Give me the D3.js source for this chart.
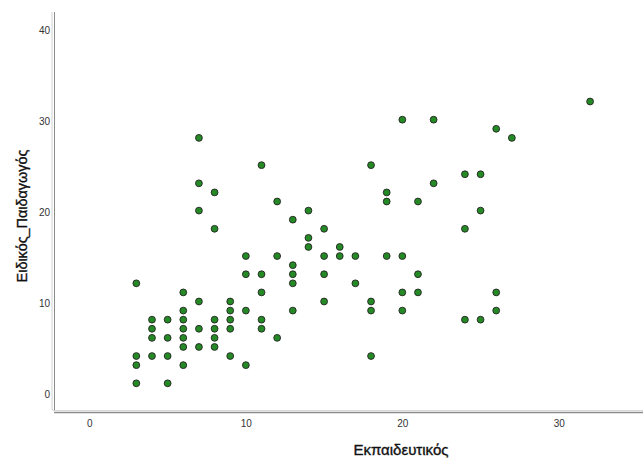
<!DOCTYPE html>
<html>
<head>
<meta charset="utf-8">
<script src="https://cdn.jsdelivr.net/npm/d3@7"></script>
<style>
  body { margin: 0; background: #fff; }
  svg { display: block; font-family: "Liberation Sans", Arial, sans-serif; }
</style>
</head>
<body>
<div id="chart"></div>
<script>
// Εκπαιδευτικός (x) and Ειδικός_Παιδαγωγός (y) values
const xValues = [3,3,3,3, 4,4,4,4, 5,5,5,5, 6,6,6,6,6,6,6, 7,7,7,7,7,7, 8,8,8,8,8,8,
    9,9,9,9,9, 10,10,10,10, 11,11,11,11,11, 12,12,12, 13,13,13,13,13, 14,14,14,
    15,15,15,15, 16,16, 17,17, 18,18,18,18, 19,19,19, 20,20,20,20, 21,21,21, 22,22,
    24,24,24, 25,25,25, 26,26,26, 27, 32];
const yValues = [12,4,3,1, 8,7,6,4, 8,6,4,1, 11,9,8,7,6,5,3, 28,23,20,10,7,5, 22,18,8,7,6,5,
    10,9,8,7,4, 15,13,9,3, 25,13,11,8,7, 21,15,6, 19,14,13,12,9, 20,17,16,
    18,15,13,10, 16,15, 15,12, 25,10,9,4, 22,21,15, 30,15,11,9, 21,13,11, 30,23,
    24,18,8, 24,20,8, 29,11,9, 28, 32];
const xTicks = [0, 10, 20, 30];
const yTicks = [0, 10, 20, 30, 40];
const xTitle = "Εκπαιδευτικός";
const yTitle = "Ειδικός_Παιδαγωγός";

const points = xValues.map((v, i) => ({x: v, y: yValues[i]}));

const width = 643, height = 459;

const svg = d3.select("#chart")
    .append("svg")
    .attr("width", width)
    .attr("height", height);

const x = d3.scaleLinear().domain([0, 30]).range([89.4, 558.8]);
const y = d3.scaleLinear().domain([0, 40]).range([392.4, 28.8]);

// axis frame lines (light shadow + grey line, like the original)
svg.append("path")
    .attr("d", "M52,12 L52,408 Q52,410.5 54.5,410.5 L643,410.5")
    .attr("fill", "none")
    .attr("stroke", "#d9d9d9")
    .attr("stroke-width", 1.2);
svg.append("line")
    .attr("x1", 54.5).attr("x2", 54.5).attr("y1", 12).attr("y2", 410)
    .attr("stroke", "#8c8c8c").attr("stroke-width", 1);
svg.append("line")
    .attr("x1", 54).attr("x2", 643).attr("y1", 412.5).attr("y2", 412.5)
    .attr("stroke", "#8c8c8c").attr("stroke-width", 1.6);

// x axis tick labels
const gx = svg.append("g")
    .attr("transform", "translate(0,412)")
    .call(d3.axisBottom(x).tickValues(xTicks).tickSize(0).tickPadding(8));
gx.select(".domain").remove();
gx.selectAll("text")
    .attr("font-size", 10)
    .attr("fill", "#333");

// y axis tick labels
const gy = svg.append("g")
    .attr("transform", "translate(54,0)")
    .call(d3.axisLeft(y).tickValues(yTicks).tickSize(0).tickPadding(4));
gy.select(".domain").remove();
gy.selectAll("text")
    .attr("font-size", 10)
    .attr("fill", "#333")
    .attr("dy", "0.47em");

// points
svg.selectAll(".dot")
    .data(points)
    .enter()
    .append("circle")
    .attr("class", "dot")
    .attr("cx", d => x(d.x))
    .attr("cy", d => y(d.y))
    .attr("r", 3.4)
    .attr("fill", "#258a25")
    .attr("stroke", "#222")
    .attr("stroke-width", 0.9);

// axis titles
svg.append("text")
    .attr("x", 401)
    .attr("y", 455)
    .attr("text-anchor", "middle")
    .attr("font-size", 15)
    .attr("fill", "#111")
    .attr("stroke", "#111")
    .attr("stroke-width", 0.35)
    .text(xTitle);

svg.append("text")
    .attr("transform", "translate(27,216) rotate(-90)")
    .attr("text-anchor", "middle")
    .attr("font-size", 14.4)
    .attr("fill", "#111")
    .attr("stroke", "#111")
    .attr("stroke-width", 0.35)
    .text(yTitle);
</script>
</body>
</html>
